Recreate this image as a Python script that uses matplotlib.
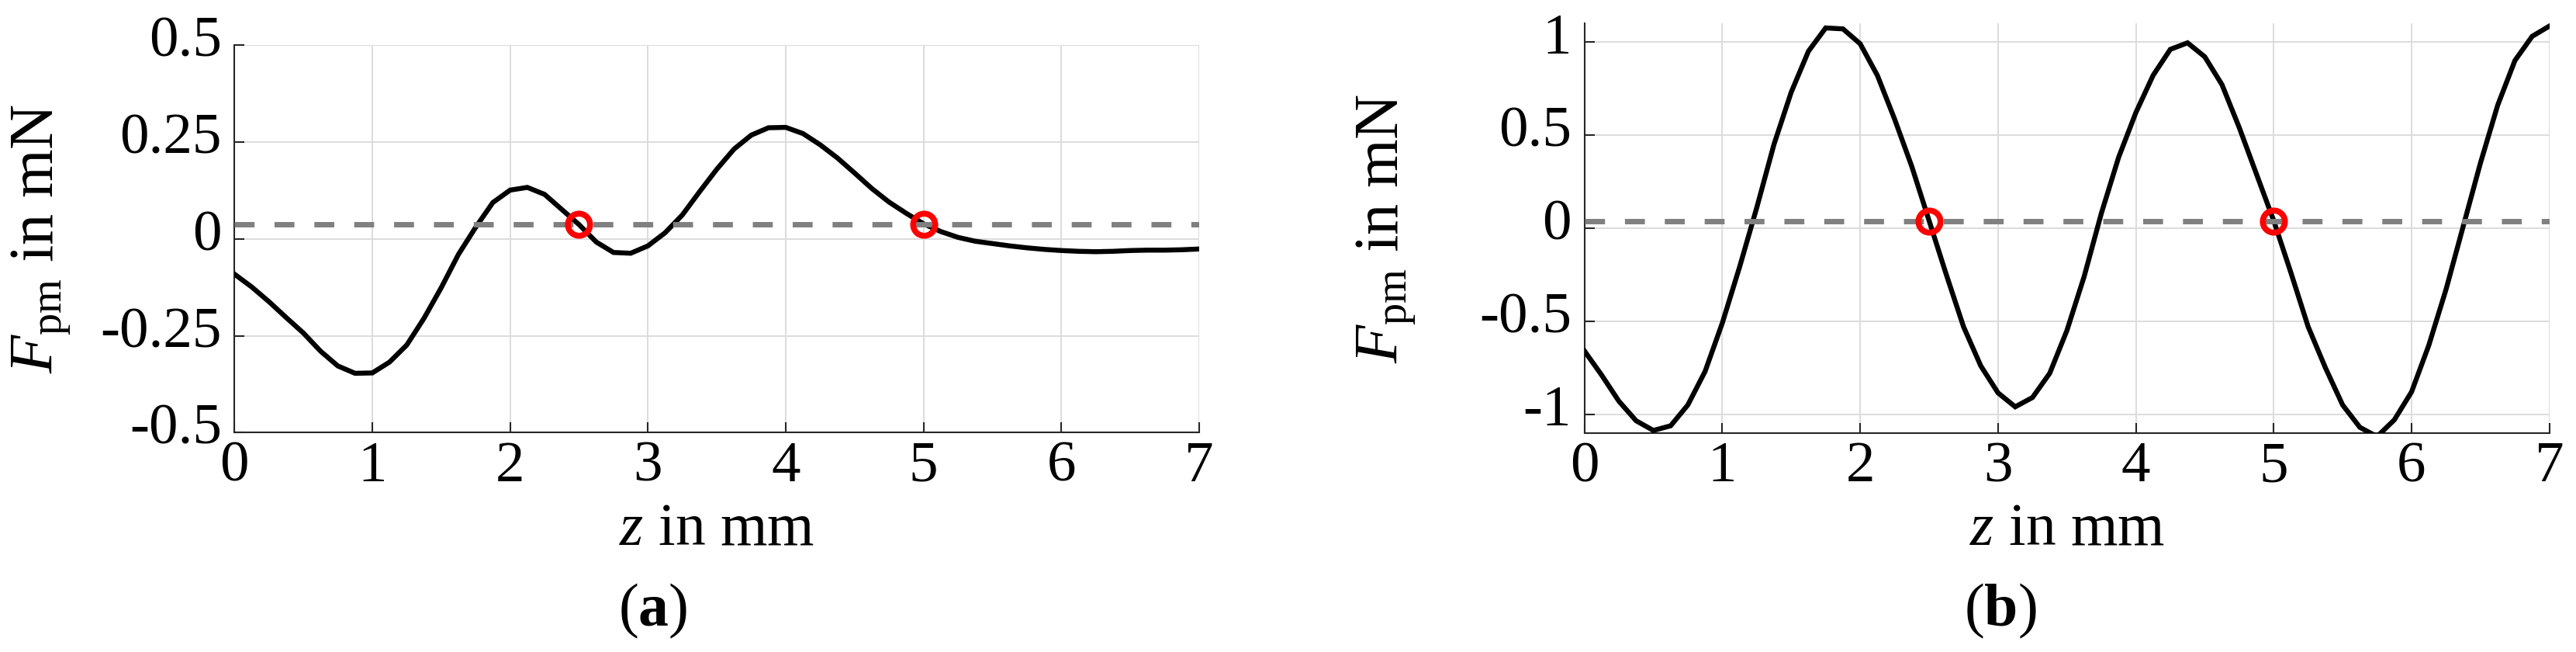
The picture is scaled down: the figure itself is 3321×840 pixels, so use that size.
import numpy as np
import matplotlib
matplotlib.use("Agg")
import matplotlib.pyplot as plt
from matplotlib.transforms import ScaledTranslation

# ---------------- data ----------------
z_mm = np.linspace(0.0, 7.0, 57)  # sampling grid, 0.125 mm steps

force_a = [-0.091, -0.124, -0.162, -0.203, -0.243, -0.290, -0.328, -0.347,
           -0.346, -0.318, -0.274, -0.205, -0.126, -0.040, 0.030, 0.094,
           0.126, 0.133, 0.115, 0.076, 0.037, -0.008, -0.035, -0.037,
           -0.018, 0.016, 0.062, 0.122, 0.180, 0.232, 0.268, 0.287,
           0.288, 0.272, 0.243, 0.209, 0.170, 0.130, 0.095, 0.066,
           0.039, 0.019, 0.004, -0.006, -0.012, -0.018, -0.023, -0.027,
           -0.030, -0.032, -0.033, -0.032, -0.030, -0.029, -0.029, -0.028,
           -0.026]

force_b = [-0.66, -0.79, -0.93, -1.035, -1.087, -1.062, -0.95, -0.77,
           -0.51, -0.21, 0.11, 0.45, 0.73, 0.95, 1.075, 1.07,
           0.99, 0.82, 0.585, 0.33, 0.04, -0.25, -0.53, -0.74,
           -0.885, -0.96, -0.91, -0.78, -0.55, -0.26, 0.08, 0.38,
           0.62, 0.82, 0.96, 0.995, 0.92, 0.77, 0.54, 0.29,
           0.04, -0.24, -0.53, -0.75, -0.95, -1.07, -1.12, -1.03,
           -0.88, -0.63, -0.33, 0.01, 0.35, 0.66, 0.90, 1.03,
           1.085]

ref_level_a = 0.038
ref_level_b = 0.038
marker_z = [2.5, 5.0]

x_ticks = [0, 1, 2, 3, 4, 5, 6, 7]
x_ticklabels = ["0", "1", "2", "3", "4", "5", "6", "7"]
y_ticks_a = [-0.5, -0.25, 0, 0.25, 0.5]
y_ticklabels_a = ["-0.5", "-0.25", "0", "0.25", "0.5"]
y_ticks_b = [-1, -0.5, 0, 0.5, 1]
y_ticklabels_b = ["-1", "-0.5", "0", "0.5", "1"]

xlabel = r"$z$ in mm"
ylabel = r"$F_{\mathrm{pm}}$ in mN"
captions = [r"($\mathbf{a}$)", r"($\mathbf{b}$)"]

# ---------------- style ----------------
plt.rcParams["font.family"] = ["Liberation Serif", "DejaVu Serif"]
plt.rcParams["mathtext.fontset"] = "custom"
plt.rcParams["mathtext.rm"] = "Liberation Serif"
plt.rcParams["mathtext.it"] = "Liberation Serif:italic"
plt.rcParams["mathtext.bf"] = "Liberation Serif:bold"

W, H = 3321, 840
fig = plt.figure(figsize=(W / 100, H / 100), dpi=100)

def px_axes(x0, y0, x1, y1):
    return [x0 / W, 1 - y1 / H, (x1 - x0) / W, (y1 - y0) / H]

ax_a = fig.add_axes(px_axes(302.3, 58.3, 1546.0, 557.3))
ax_b = fig.add_axes(px_axes(2042.7, 30.0, 3286.7, 557.7))

spine_col = "#262626"

def style(ax, yt, ytl, ylim, ref, vals):
    ax.set_xlim(0, 7)
    ax.set_ylim(*ylim)
    ax.grid(True, color="#dcdcdc", linewidth=1.4)
    ax.set_axisbelow(True)
    for s in ["top", "right"]:
        ax.spines[s].set_visible(False)
    for s in ["left", "bottom"]:
        ax.spines[s].set_color(spine_col)
        ax.spines[s].set_linewidth(1.5)
    ax.set_xticks(x_ticks)
    ax.set_xticklabels(x_ticklabels)
    ax.set_yticks(yt)
    ax.set_yticklabels(ytl)
    ax.tick_params(axis="both", direction="in", length=9.5, width=1.5,
                   color=spine_col, labelsize=54, labelcolor="black")
    ax.tick_params(axis="x", pad=8)
    ax.tick_params(axis="y", pad=12)
    shift = ScaledTranslation(0, 8 / 72, fig.dpi_scale_trans)
    for lab in ax.get_yticklabels():
        lab.set_transform(lab.get_transform() + shift)

    ax.plot(z_mm, vals, color="black", linewidth=4.6, zorder=3,
            solid_joinstyle="miter")
    ax.plot([0, 7], [ref, ref], color="#808080", linewidth=5.0,
            dashes=(3.7, 3.7), zorder=4)
    ax.plot(marker_z, [ref] * len(marker_z), linestyle="none", marker="o",
            markersize=20.5, markerfacecolor="none", markeredgecolor="#ff0000",
            markeredgewidth=5.5, zorder=5)

    ax.set_xlabel(xlabel, fontsize=56)
    ax.set_ylabel(ylabel, fontsize=58)
    ax.xaxis.label.set_va("center")
    ax.yaxis.label.set_va("center")

style(ax_a, y_ticks_a, y_ticklabels_a, (-0.5, 0.5), ref_level_a, force_a)
style(ax_b, y_ticks_b, y_ticklabels_b, (-1.1, 1.1), ref_level_b, force_b)

# label positions (axes coordinates)
ax_a.xaxis.set_label_coords(0.5, (557.3 - 683) / 499.0)
ax_a.yaxis.set_label_coords((53 - 302.3) / 1243.7, 0.5)
ax_b.xaxis.set_label_coords(0.5, (557.7 - 683) / 527.7)
ax_b.yaxis.set_label_coords((1787 - 2042.7) / 1244.0, 0.5)

fig.text(842 / W, 1 - 787 / H, captions[0], ha="center", va="center", fontsize=56)
fig.text(2579 / W, 1 - 787 / H, captions[1], ha="center", va="center", fontsize=56)

fig.savefig("out.png", dpi=100)
